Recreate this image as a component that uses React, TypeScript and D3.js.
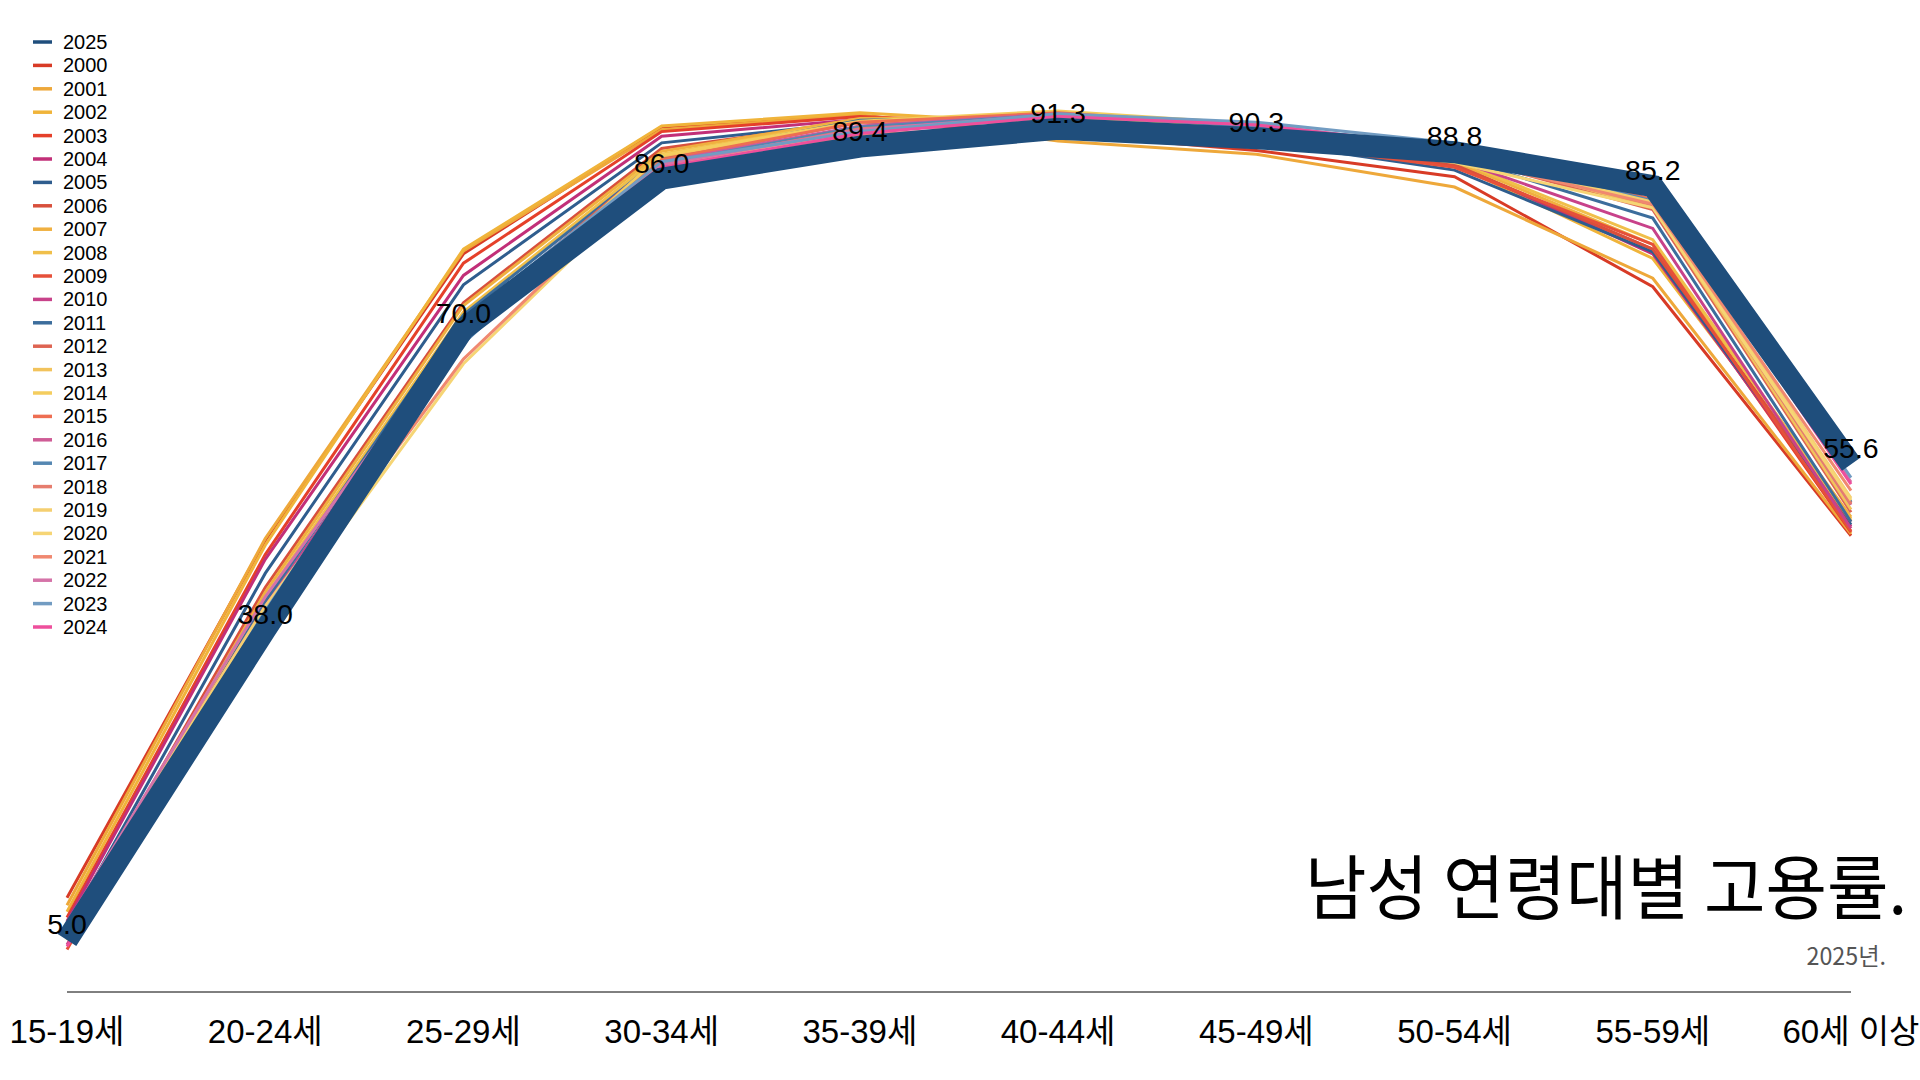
import React from "react";
import * as d3 from "d3";

const ageGroups = ["15-19세", "20-24세", "25-29세", "30-34세", "35-39세", "40-44세", "45-49세", "50-54세", "55-59세", "60세 이상"];

const legendOrder = ["2025", "2000", "2001", "2002", "2003", "2004", "2005", "2006", "2007", "2008", "2009", "2010", "2011", "2012", "2013", "2014", "2015", "2016", "2017", "2018", "2019", "2020", "2021", "2022", "2023", "2024"];

const r2000 = [9.5, 47.5, 78.0, 91.5, 92.7, 90.8, 89.0, 86.2, 74.5, 48.0];
const r2001 = [8.7, 47.7, 78.3, 91.2, 92.8, 90.0, 88.6, 85.1, 75.4, 48.2];
const r2002 = [8.0, 47.0, 78.5, 91.6, 93.0, 91.8, 90.0, 87.5, 77.5, 49.8];
const r2003 = [7.4, 46.0, 77.0, 91.0, 92.6, 91.7, 90.2, 87.4, 78.5, 48.4];
const r2004 = [7.0, 45.5, 75.7, 90.5, 92.3, 92.0, 90.5, 87.6, 78.0, 49.0];
const r2005 = [6.3, 44.0, 74.7, 89.8, 92.0, 92.0, 90.0, 86.9, 78.2, 49.2];
const r2006 = [5.8, 42.5, 72.8, 89.2, 92.1, 92.2, 90.3, 87.5, 78.5, 49.5];
const r2007 = [5.3, 42.0, 72.5, 88.9, 92.4, 92.6, 90.6, 87.8, 79.0, 50.0];
const r2008 = [5.0, 41.5, 71.8, 88.6, 92.2, 92.4, 90.5, 88.0, 79.5, 49.6];
const r2009 = [4.0, 40.5, 70.5, 87.5, 91.5, 91.5, 90.0, 87.2, 79.0, 48.5];
const r2010 = [4.5, 40.5, 70.8, 88.0, 92.0, 92.2, 90.8, 88.0, 80.7, 48.8];
const r2011 = [5.2, 41.0, 71.5, 88.2, 92.2, 92.6, 91.2, 88.3, 81.8, 49.5];
const r2012 = [5.6, 39.5, 70.5, 88.3, 92.0, 92.7, 91.3, 88.5, 82.7, 50.5];
const r2013 = [5.5, 38.5, 69.5, 88.4, 92.0, 92.9, 91.5, 88.7, 83.0, 50.8];
const r2014 = [6.5, 39.5, 69.5, 88.5, 92.1, 93.2, 91.8, 89.0, 83.6, 51.6];
const r2015 = [6.8, 40.0, 69.8, 88.0, 92.0, 93.0, 91.6, 89.0, 83.8, 51.5];
const r2016 = [6.9, 40.5, 69.5, 87.8, 91.6, 92.9, 91.5, 88.8, 83.5, 51.3];
const r2017 = [6.2, 40.0, 68.5, 87.6, 91.5, 92.8, 91.4, 89.0, 83.6, 51.6];
const r2018 = [6.0, 40.0, 69.0, 87.4, 91.3, 92.4, 91.2, 88.7, 83.2, 51.4];
const r2019 = [6.7, 40.5, 68.8, 87.5, 91.0, 92.5, 91.2, 88.6, 83.5, 52.0];
const r2020 = [5.3, 37.5, 66.3, 86.8, 90.5, 91.4, 90.5, 87.7, 82.9, 51.8];
const r2021 = [5.8, 38.5, 66.8, 86.9, 90.6, 91.8, 91.0, 88.2, 83.3, 52.8];
const r2022 = [6.7, 41.5, 70.5, 87.5, 91.2, 92.8, 91.8, 89.2, 84.2, 53.7];
const r2023 = [5.5, 40.0, 71.0, 87.8, 91.0, 92.9, 92.0, 89.8, 84.5, 54.2];
const r2024 = [4.3, 38.5, 70.0, 87.2, 90.8, 92.6, 91.7, 89.3, 84.4, 53.5];
const r2025 = [5.0, 38.0, 70.0, 86.0, 89.4, 91.3, 90.3, 88.8, 85.2, 55.6];

const pastYears = ["2000", "2001", "2002", "2003", "2004", "2005", "2006", "2007", "2008", "2009", "2010", "2011", "2012", "2013", "2014", "2015", "2016", "2017", "2018", "2019", "2020", "2021", "2022", "2023", "2024"];
const pastValues = [r2000, r2001, r2002, r2003, r2004, r2005, r2006, r2007, r2008, r2009, r2010, r2011, r2012, r2013, r2014, r2015, r2016, r2017, r2018, r2019, r2020, r2021, r2022, r2023, r2024];

const yearColors: Record<string, string> = {
  "2025": "#1f4e7c",
  "2000": "#d83b26",
  "2001": "#eea83a",
  "2002": "#f0b43a",
  "2003": "#e5402a",
  "2004": "#c22f78",
  "2005": "#2f5d8e",
  "2006": "#d8503c",
  "2007": "#f0b040",
  "2008": "#f0bf4a",
  "2009": "#e6503a",
  "2010": "#c8428a",
  "2011": "#3c6d9c",
  "2012": "#de6452",
  "2013": "#f2c35c",
  "2014": "#f4cd5e",
  "2015": "#ee6e52",
  "2016": "#cf5c96",
  "2017": "#5587b2",
  "2018": "#e67d6e",
  "2019": "#f5cf70",
  "2020": "#f6d575",
  "2021": "#f08870",
  "2022": "#d573a8",
  "2023": "#729cc2",
  "2024": "#ee4f9c",
};

const titleText = "남성 연령대별 고용률.";
const subtitleText = "2025년.";

const W = 1920;
const H = 1080;
const FONT = "'Liberation Sans', Arial, 'Noto Sans CJK KR', sans-serif";
const KFONT = "'Noto Sans CJK KR', sans-serif";

export default function App() {
  const x = d3.scalePoint<string>().domain(ageGroups).range([67, 1851]);
  const y = d3.scaleLinear().domain([0, 100]).range([987, 47]);
  const line = d3
    .line<number>()
    .x((_, i) => x(ageGroups[i]) as number)
    .y((d) => y(d));
  const fmt = d3.format(".1f");
  const legendY = d3.scaleBand<string>().domain(legendOrder).range([30.3, 30.3 + 23.4 * legendOrder.length]);

  return (
    <svg width={W} height={H} style={{ position: "absolute", left: 0, top: 0, display: "block", background: "#fff" }} fontFamily={FONT}>
      {/* legend */}
      <g>
        {legendOrder.map((yr) => {
          const cy = (legendY(yr) as number) + legendY.bandwidth() / 2;
          return (
            <g key={yr}>
              <line x1={33} x2={52} y1={cy} y2={cy} stroke={yearColors[yr]} strokeWidth={3.5} />
              <text x={63} y={cy + 7} fontSize={20} fill="#000">
                {yr}
              </text>
            </g>
          );
        })}
      </g>

      {/* past years */}
      <g fill="none">
        {pastYears.map((yr, i) => (
          <path key={yr} d={line(pastValues[i]) as string} stroke={yearColors[yr]} strokeWidth={3} />
        ))}
      </g>

      {/* current year */}
      <path d={line(r2025) as string} fill="none" stroke={yearColors["2025"]} strokeWidth={22} />

      {/* labels */}
      <g>
        {r2025.map((v, i) => (
          <text key={i} x={x(ageGroups[i]) as number} y={y(v) - 6} textAnchor="middle" fontSize={28.5} fill="#000">
            {fmt(v)}
          </text>
        ))}
      </g>

      {/* x axis */}
      <line x1={x(ageGroups[0]) as number} x2={x(ageGroups[ageGroups.length - 1]) as number} y1={992} y2={992} stroke="#000" strokeWidth={1} />
      <g>
        {ageGroups.map((a) => (
          <text key={a} x={x(a) as number} y={1043} textAnchor="middle" fontSize={33} fill="#000">
            {a}
          </text>
        ))}
      </g>

      {/* title */}
      <text transform="translate(1907,914) scale(0.955,1)" textAnchor="end" fontSize={70} fill="#000" fontFamily={KFONT}>
        {titleText}
      </text>
      <text transform="translate(1886,965) scale(0.97,1)" textAnchor="end" fontSize={24} fill="#555" fontFamily={KFONT}>
        {subtitleText}
      </text>
    </svg>
  );
}
